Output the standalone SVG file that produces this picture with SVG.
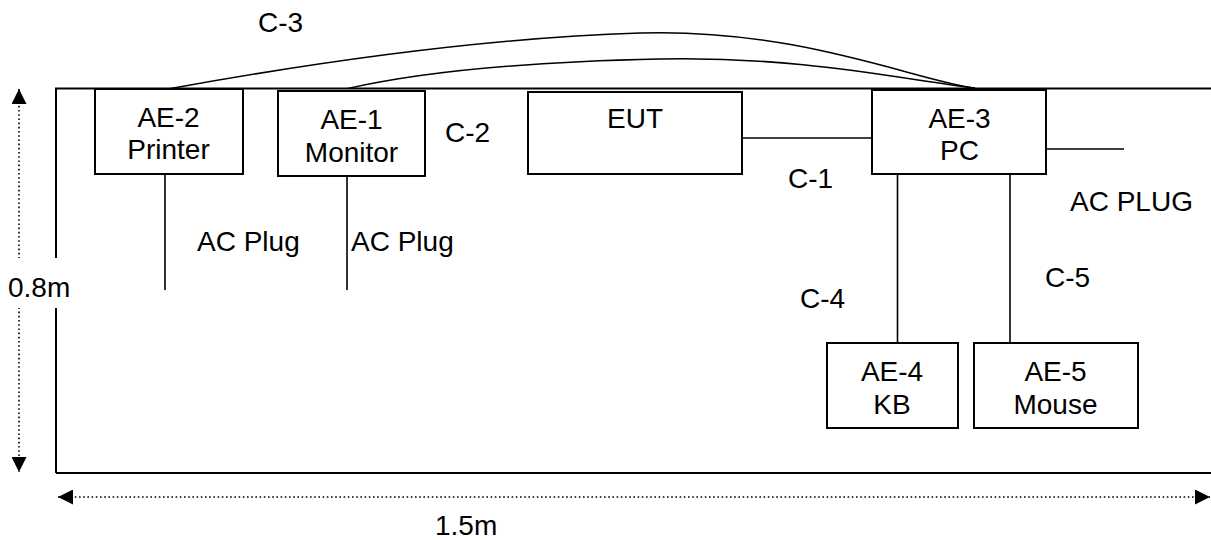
<svg xmlns="http://www.w3.org/2000/svg" width="1211" height="540" viewBox="0 0 1211 540">
  <style>
    text { font-family: "Liberation Sans", Arial, sans-serif; font-size: 28px; fill: #000; }
    .mid { text-anchor: middle; }
    .box { fill: #fff; stroke: #000; stroke-width: 2; }
    .ln { fill: none; stroke: #000; stroke-width: 1.6; }
    .tbl { fill: none; stroke: #000; stroke-width: 2; }
    .dim { fill: none; stroke: #000; stroke-width: 1.6; stroke-dasharray: 1.6 2.6; }
  </style>
  <defs>
    <marker id="head" viewBox="0 0 15 15" refX="15" refY="7.5" markerWidth="15" markerHeight="15" markerUnits="userSpaceOnUse" orient="auto-start-reverse">
      <path d="M0,0 L15,7.5 L0,15 Z" fill="#000"/>
    </marker>
  </defs>
  <rect width="1211" height="540" fill="#fff"/>

  <g id="table">
    <path class="tbl" d="M56,473 V88.5 H1211"/>
    <path class="tbl" d="M56,473 H1211"/>
  </g>

  <g id="dimensions">
    <line class="dim" x1="19" y1="89" x2="19" y2="472" marker-start="url(#head)" marker-end="url(#head)"/>
    <line class="dim" x1="58" y1="497" x2="1210" y2="497" marker-start="url(#head)" marker-end="url(#head)"/>
    <g id="label-08m">
      <rect x="0" y="258" width="68" height="50" fill="#fff"/>
      <text x="8" y="297">0.8m</text>
    </g>
    <text id="label-15m" x="435" y="535">1.5m</text>
  </g>

  <g id="connectors">
    <path class="ln" d="M168,89 C300,65 480,38 640,33 S920,82 975,88"/>
    <path class="ln" d="M348,88.5 C420,72 520,62 660,59 S905,80 975,88"/>
    <line class="ln" x1="165" y1="174" x2="165" y2="290"/>
    <line class="ln" x1="347" y1="176" x2="347" y2="290"/>
    <line class="ln" x1="738" y1="138" x2="872" y2="138"/>
    <line class="ln" x1="1046" y1="149" x2="1124" y2="149"/>
    <line class="ln" x1="897.5" y1="174" x2="897.5" y2="343"/>
    <line class="ln" x1="1010" y1="174" x2="1010" y2="343"/>
  </g>

  <g id="connector-labels">
    <text x="258" y="31.5">C-3</text>
    <text x="445" y="142">C-2</text>
    <text x="788" y="188">C-1</text>
    <text x="800" y="308">C-4</text>
    <text x="1045" y="287">C-5</text>
    <text x="1070" y="211">AC PLUG</text>
    <text x="197" y="251">AC Plug</text>
    <text x="351" y="251">AC Plug</text>
  </g>

  <g id="ae2">
    <rect class="box" x="95" y="89" width="148" height="85"/>
    <text class="mid" x="168.5" y="127">AE-2</text>
    <text class="mid" x="168.5" y="159">Printer</text>
  </g>
  <g id="ae1">
    <rect class="box" x="278" y="91" width="147" height="85"/>
    <text class="mid" x="351.5" y="129">AE-1</text>
    <text class="mid" x="351.5" y="162">Monitor</text>
  </g>
  <g id="eut">
    <rect class="box" x="528" y="92" width="214" height="82"/>
    <text class="mid" x="635" y="128">EUT</text>
  </g>
  <g id="ae3">
    <rect class="box" x="872" y="90" width="174" height="84"/>
    <text class="mid" x="959.5" y="127.5">AE-3</text>
    <text class="mid" x="959.5" y="160">PC</text>
  </g>
  <g id="ae4">
    <rect class="box" x="827" y="343" width="131" height="85"/>
    <text class="mid" x="892" y="381">AE-4</text>
    <text class="mid" x="892" y="414">KB</text>
  </g>
  <g id="ae5">
    <rect class="box" x="974" y="343" width="164" height="85"/>
    <text class="mid" x="1055.5" y="381">AE-5</text>
    <text class="mid" x="1055.5" y="414">Mouse</text>
  </g>
</svg>
